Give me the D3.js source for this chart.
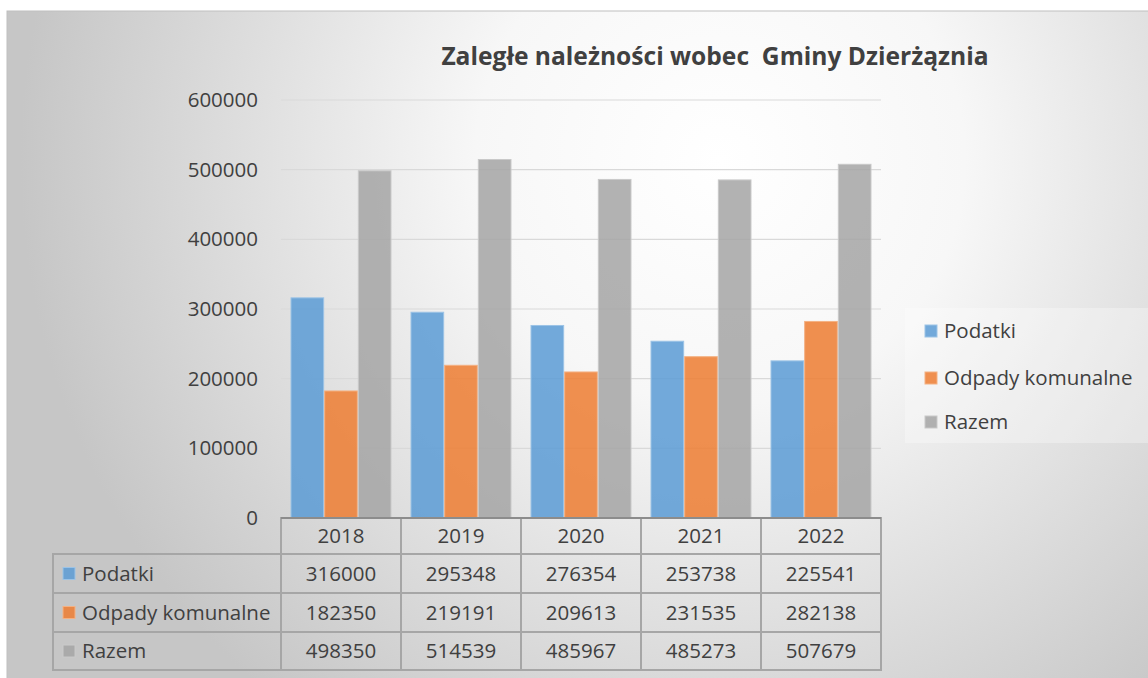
<!DOCTYPE html>
<html>
<head>
<meta charset="utf-8">
<script src="https://cdn.jsdelivr.net/npm/d3@7"></script>
<style>
  html, body { margin: 0; padding: 0; background: #fff; }
  svg text { font-family: "Open Sans", sans-serif; fill: #404040; }
</style>
</head>
<body>
<div id="chart"></div>
<script>
// data
const years = ["2018", "2019", "2020", "2021", "2022"];
const seriesNames = ["Podatki", "Odpady komunalne", "Razem"];
const podatki = [316000, 295348, 276354, 253738, 225541];
const odpady = [182350, 219191, 209613, 231535, 282138];
const razem = [498350, 514539, 485967, 485273, 507679];
const yTicks = [0, 100000, 200000, 300000, 400000, 500000, 600000];

const colors = ["#5b9bd5", "#ed7d31", "#a5a5a5"];
const strokes = ["#9cc3e6", "#f4b183", "#c9c9c9"];

const W = 1148, H = 678;
const FS = "20.5px";
const series = [podatki, odpady, razem];

const svg = d3.select("#chart").append("svg")
  .attr("width", W).attr("height", H);

const defs = svg.append("defs");
const grad = defs.append("radialGradient")
  .attr("id", "bg")
  .attr("gradientUnits", "userSpaceOnUse")
  .attr("cx", 720).attr("cy", 160).attr("r", 700);
grad.append("stop").attr("offset", "0").attr("stop-color", "#ffffff");
grad.append("stop").attr("offset", "0.35").attr("stop-color", "#f7f7f7");
grad.append("stop").attr("offset", "1").attr("stop-color", "#c6c6c6");

// chart frame
svg.append("rect")
  .attr("x", 7).attr("y", 11).attr("width", W).attr("height", H)
  .attr("fill", "url(#bg)")
  .attr("stroke", "#bfbfbf").attr("stroke-width", 1);

// title
svg.append("text")
  .attr("x", 715).attr("y", 65)
  .attr("text-anchor", "middle")
  .style("white-space", "pre")
  .style("font-size", "24.6px").style("font-weight", "bold")
  .text("Zaległe należności wobec  Gminy Dzierżąznia");

const x = d3.scaleBand().domain(years).range([281, 881]);
const xs = d3.scaleBand().domain(d3.range(3)).range([10, 110]).paddingInner(0.03);
const y = d3.scaleLinear().domain([0, 600000]).range([518, 100]);

// gridlines
svg.append("g")
  .selectAll("line")
  .data(yTicks.filter(d => d > 0))
  .enter().append("line")
  .attr("x1", 281).attr("x2", 881)
  .attr("y1", d => y(d)).attr("y2", d => y(d))
  .attr("stroke", "#d9d9d9").attr("stroke-width", 1.2);

// y axis (labels only)
const yAxis = svg.append("g")
  .attr("transform", "translate(258,0)")
  .call(d3.axisLeft(y).tickValues(yTicks).tickFormat(d3.format("d")).tickSize(0).tickPadding(0));
yAxis.select(".domain").remove();
yAxis.selectAll("text")
  .style("font-size", FS)
  .style("font-family", "'Open Sans', sans-serif")
  .attr("fill", "#404040");

// bars
const groups = svg.append("g").selectAll("g")
  .data(years)
  .enter().append("g")
  .attr("transform", d => `translate(${x(d)},0)`);

groups.selectAll("rect")
  .data((d, i) => series.map((s, k) => ({ k, v: s[i] })))
  .enter().append("rect")
  .attr("x", d => xs(d.k))
  .attr("y", d => y(d.v))
  .attr("width", xs.bandwidth())
  .attr("height", d => y(0) - y(d.v))
  .attr("fill", d => colors[d.k])
  .attr("fill-opacity", 0.85)
  .attr("stroke", d => strokes[d.k])
  .attr("stroke-width", 1);

// data table
const rowTop = [518, 554, 593, 632];
const rowBot = [554, 593, 632, 670];
const tableLeft = 53;
const table = svg.append("g");

table.append("g").selectAll("rect")
  .data(years)
  .enter().append("rect")
  .attr("x", d => x(d)).attr("y", rowTop[0])
  .attr("width", x.bandwidth()).attr("height", rowBot[0] - rowTop[0])
  .attr("fill", "none").attr("stroke", "#a6a6a6").attr("stroke-width", 2);

table.append("g").selectAll("rect")
  .data(d3.range(3))
  .enter().append("rect")
  .attr("x", tableLeft).attr("y", i => rowTop[i + 1])
  .attr("width", x.range()[1] - tableLeft).attr("height", i => rowBot[i + 1] - rowTop[i + 1])
  .attr("fill", "none").attr("stroke", "#a6a6a6").attr("stroke-width", 2);

table.append("g").selectAll("line")
  .data(years)
  .enter().append("line")
  .attr("x1", d => x(d)).attr("x2", d => x(d))
  .attr("y1", rowTop[1]).attr("y2", rowBot[3])
  .attr("stroke", "#a6a6a6").attr("stroke-width", 2);

// x axis line
svg.append("line")
  .attr("x1", 281).attr("x2", 881).attr("y1", 518).attr("y2", 518)
  .attr("stroke", "#8c8c8c").attr("stroke-width", 2);

table.append("g").selectAll("text")
  .data(years)
  .enter().append("text")
  .attr("x", d => x(d) + x.bandwidth() / 2)
  .attr("y", (rowTop[0] + rowBot[0]) / 2 + 7)
  .attr("text-anchor", "middle")
  .style("font-size", FS)
  .text(d => d);

series.forEach((s, k) => {
  const cy = (rowTop[k + 1] + rowBot[k + 1]) / 2;
  table.append("rect")
    .attr("x", 63).attr("y", cy - 6).attr("width", 12).attr("height", 12)
    .attr("fill", colors[k]).attr("fill-opacity", 0.85)
    .attr("stroke", strokes[k]);
  table.append("text")
    .attr("x", 82).attr("y", cy + 7)
    .style("font-size", FS)
    .text(seriesNames[k]);
  table.append("g").selectAll("text")
    .data(s)
    .enter().append("text")
    .attr("x", (d, i) => x(years[i]) + x.bandwidth() / 2)
    .attr("y", cy + 7)
    .attr("text-anchor", "middle")
    .style("font-size", FS)
    .text(d => d);
});

// legend
const legend = svg.append("g");
legend.append("rect")
  .attr("x", 905).attr("y", 308).attr("width", 243).attr("height", 135)
  .attr("fill", "#ffffff").attr("fill-opacity", 0.3);
const legendY = [331, 378, 422];
seriesNames.forEach((name, k) => {
  legend.append("rect")
    .attr("x", 925).attr("y", legendY[k] - 6).attr("width", 12).attr("height", 12)
    .attr("fill", colors[k]).attr("fill-opacity", 0.85)
    .attr("stroke", strokes[k]);
  legend.append("text")
    .attr("x", 944).attr("y", legendY[k] + 7)
    .style("font-size", FS)
    .text(name);
});
</script>
</body>
</html>
